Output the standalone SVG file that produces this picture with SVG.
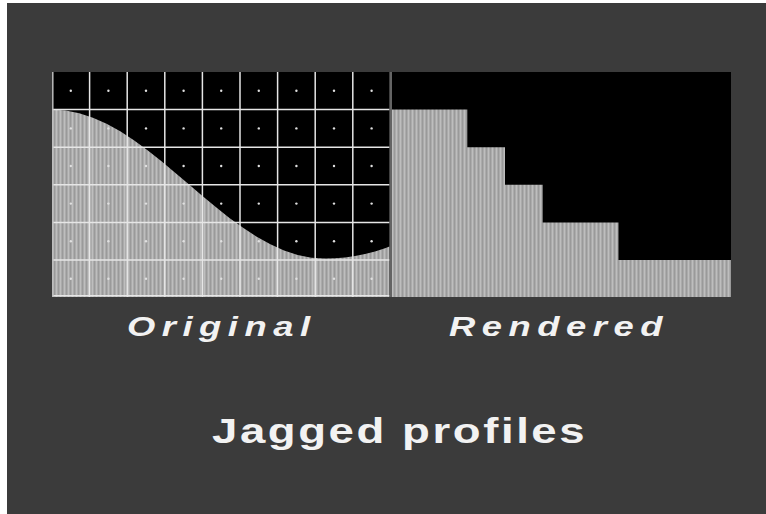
<svg xmlns="http://www.w3.org/2000/svg" width="766" height="514" viewBox="0 0 766 514">
  <style>
    .lbl { font-family: "Liberation Sans", Arial, sans-serif; font-weight: bold; fill: #f2f2f2; }
    .it { font-style: italic; font-size: 28px; letter-spacing: 5px; }
    .title { font-size: 35px; letter-spacing: 2px; }
    .grid line { stroke: #e6e6e6; stroke-width: 1.5; }
    .dots circle { fill: #e0e0e0; }
  </style>
  <defs>
    <pattern id="tex" width="4" height="4" patternUnits="userSpaceOnUse">
      <rect width="4" height="4" fill="#ababab"/>
      <rect x="0" y="0" width="1" height="4" fill="#bebebe"/>
      <rect x="2" y="0" width="1" height="4" fill="#9a9a9a"/>
    </pattern>
  </defs>
  <rect x="0" y="0" width="766" height="514" fill="#ffffff"/>
  <rect x="7" y="3" width="759" height="511" fill="#3b3b3b"/>

  <g id="original-panel">
    <rect x="52" y="72" width="337.5" height="225" fill="#000000"/>
    <path fill="url(#tex)" d="M52,109.5 L65.65,110.42 L79.3,113.15 L92.95,117.63 L106.6,123.74 L120.25,131.34 L133.9,140.23 L147.55,150.21 L161.2,161.01 L174.85,172.39 L188.5,184.05 L202.15,195.71 L215.8,207.09 L229.45,217.89 L243.1,227.87 L256.75,236.76 L270.4,244.36 L284.05,250.47 L297.7,254.95 L311.35,257.68 L325,258.6 L335,258.3 L345,257.4 L355,256 L365,254 L375,251.4 L385,248.2 L389.5,246.4 L389.5,297 L52,297 Z"/>
    <g class="grid">
      <line x1="89.6" y1="72" x2="89.6" y2="297"/>
      <line x1="127.2" y1="72" x2="127.2" y2="297"/>
      <line x1="164.8" y1="72" x2="164.8" y2="297"/>
      <line x1="202.4" y1="72" x2="202.4" y2="297"/>
      <line x1="240" y1="72" x2="240" y2="297"/>
      <line x1="277.6" y1="72" x2="277.6" y2="297"/>
      <line x1="315.2" y1="72" x2="315.2" y2="297"/>
      <line x1="352.8" y1="72" x2="352.8" y2="297"/>
      <line x1="52" y1="109.6" x2="389.5" y2="109.6"/>
      <line x1="52" y1="147.2" x2="389.5" y2="147.2"/>
      <line x1="52" y1="184.8" x2="389.5" y2="184.8"/>
      <line x1="52" y1="222.4" x2="389.5" y2="222.4"/>
      <line x1="52" y1="260" x2="389.5" y2="260"/>
      <line x1="52" y1="295.8" x2="389.5" y2="295.8"/>
      <line x1="52.8" y1="72" x2="52.8" y2="297" style="stroke:#bdbdbd"/>
    </g>
    <g class="dots">
      <circle cx="70.8" cy="90.8" r="1.2"/><circle cx="108.4" cy="90.8" r="1.2"/><circle cx="146" cy="90.8" r="1.2"/><circle cx="183.6" cy="90.8" r="1.2"/><circle cx="221.2" cy="90.8" r="1.2"/><circle cx="258.8" cy="90.8" r="1.2"/><circle cx="296.4" cy="90.8" r="1.2"/><circle cx="334" cy="90.8" r="1.2"/><circle cx="371.6" cy="90.8" r="1.2"/>
      <circle cx="70.8" cy="128.4" r="1.2"/><circle cx="108.4" cy="128.4" r="1.2"/><circle cx="146" cy="128.4" r="1.2"/><circle cx="183.6" cy="128.4" r="1.2"/><circle cx="221.2" cy="128.4" r="1.2"/><circle cx="258.8" cy="128.4" r="1.2"/><circle cx="296.4" cy="128.4" r="1.2"/><circle cx="334" cy="128.4" r="1.2"/><circle cx="371.6" cy="128.4" r="1.2"/>
      <circle cx="70.8" cy="166" r="1.2"/><circle cx="108.4" cy="166" r="1.2"/><circle cx="146" cy="166" r="1.2"/><circle cx="183.6" cy="166" r="1.2"/><circle cx="221.2" cy="166" r="1.2"/><circle cx="258.8" cy="166" r="1.2"/><circle cx="296.4" cy="166" r="1.2"/><circle cx="334" cy="166" r="1.2"/><circle cx="371.6" cy="166" r="1.2"/>
      <circle cx="70.8" cy="203.6" r="1.2"/><circle cx="108.4" cy="203.6" r="1.2"/><circle cx="146" cy="203.6" r="1.2"/><circle cx="183.6" cy="203.6" r="1.2"/><circle cx="221.2" cy="203.6" r="1.2"/><circle cx="258.8" cy="203.6" r="1.2"/><circle cx="296.4" cy="203.6" r="1.2"/><circle cx="334" cy="203.6" r="1.2"/><circle cx="371.6" cy="203.6" r="1.2"/>
      <circle cx="70.8" cy="241.2" r="1.2"/><circle cx="108.4" cy="241.2" r="1.2"/><circle cx="146" cy="241.2" r="1.2"/><circle cx="183.6" cy="241.2" r="1.2"/><circle cx="221.2" cy="241.2" r="1.2"/><circle cx="258.8" cy="241.2" r="1.2"/><circle cx="296.4" cy="241.2" r="1.2"/><circle cx="334" cy="241.2" r="1.2"/><circle cx="371.6" cy="241.2" r="1.2"/>
      <circle cx="70.8" cy="278.8" r="1.2"/><circle cx="108.4" cy="278.8" r="1.2"/><circle cx="146" cy="278.8" r="1.2"/><circle cx="183.6" cy="278.8" r="1.2"/><circle cx="221.2" cy="278.8" r="1.2"/><circle cx="258.8" cy="278.8" r="1.2"/><circle cx="296.4" cy="278.8" r="1.2"/><circle cx="334" cy="278.8" r="1.2"/><circle cx="371.6" cy="278.8" r="1.2"/>
    </g>
  </g>

  <rect id="separator" x="389.5" y="72" width="2.5" height="225" fill="#646464"/>

  <g id="rendered-panel">
    <rect x="392" y="72" width="339" height="225" fill="#000000"/>
    <path fill="url(#tex)" d="M392,109.6 H467.3 V147.2 H505 V184.8 H542.7 V222.4 H618.5 V260 H731 V297 H392 Z"/>
  </g>

  <g id="labels">
    <text class="lbl it" transform="translate(127,336) scale(1.3,1)">Original</text>
    <text class="lbl it" transform="translate(449,336) scale(1.3,1)">Rendered</text>
    <text class="lbl title" transform="translate(212,443) scale(1.3,1)">Jagged profiles</text>
  </g>
</svg>
